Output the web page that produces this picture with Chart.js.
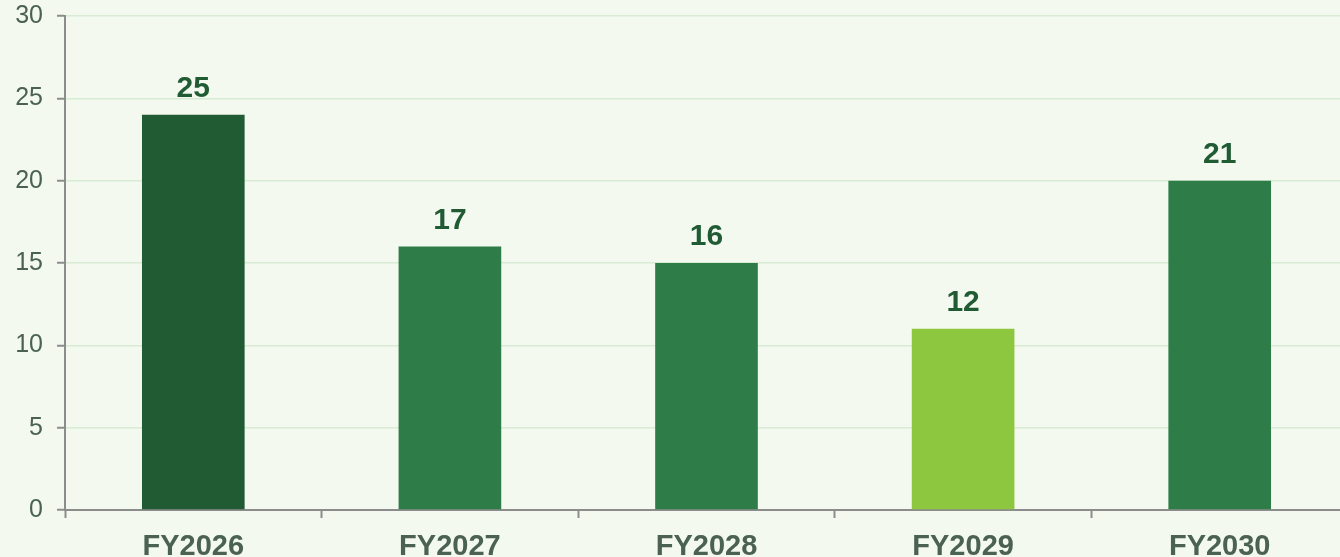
<!DOCTYPE html>
<html>
<head>
<meta charset="utf-8">
<script src="https://cdn.jsdelivr.net/npm/chart.js@4/dist/chart.umd.min.js"></script>
<style>
  html, body { margin: 0; padding: 0; background: #f3f9ef; overflow: hidden; }
  #wrap { width: 1348px; height: 557px; }
</style>
</head>
<body>
<div id="wrap"><canvas id="bars" width="1348" height="557"></canvas></div>
<script>
// chart data
const years = ['FY2026', 'FY2027', 'FY2028', 'FY2029', 'FY2030'];
const barValues = [24, 16, 15, 11, 20];
const valueLabels = ['25', '17', '16', '12', '21'];
const barColors = ['#215b34', '#2e7d48', '#2e7d48', '#8dc63f', '#2e7d48'];
const yTicks = [0, 5, 10, 15, 20, 25, 30];

const axisGray = '#8c8c8c';
const tickText = '#4b6253';

// draws the number above each bar
const topLabels = {
    id: 'topLabels',
    afterDatasetsDraw(chart) {
        const ctx = chart.ctx;
        const meta = chart.getDatasetMeta(0);
        ctx.save();
        ctx.font = 'bold 30px "Liberation Sans", Arial, sans-serif';
        ctx.fillStyle = '#215b34';
        ctx.textAlign = 'center';
        ctx.textBaseline = 'alphabetic';
        meta.data.forEach(function(bar, i) {
            ctx.fillText(valueLabels[i], bar.x, bar.y - 18);
        });
        ctx.restore();
    }
};

const ctx = document.getElementById('bars');
new Chart(ctx, {
    type: 'bar',
    data: {
        labels: years,
        datasets: [{
            data: barValues,
            backgroundColor: barColors,
            borderWidth: 0,
            categoryPercentage: 0.4,
            barPercentage: 1.0
        }]
    },
    options: {
        responsive: false,
        animation: false,
        layout: { padding: { top: 16, right: 0, left: 0, bottom: 0 } },
        plugins: {
            legend: { display: false },
            tooltip: { enabled: false }
        },
        scales: {
            x: {
                grid: {
                    display: true,
                    drawOnChartArea: false,
                    drawTicks: true,
                    tickLength: 8,
                    tickColor: axisGray,
                    tickWidth: 2,
                    offset: true
                },
                border: { color: axisGray, width: 2 },
                ticks: {
                    color: tickText,
                    padding: 12,
                    font: { family: '"Liberation Sans", Arial, sans-serif', size: 29, weight: 'bold' }
                },
                afterFit(scale) {
                    scale.height = 47;
                    scale.paddingLeft = 0;
                    scale.paddingRight = 0;
                }
            },
            y: {
                min: 0,
                max: 30,
                afterBuildTicks(scale) {
                    scale.ticks = yTicks.map(function(v) { return { value: v }; });
                },
                grid: {
                    color: '#d9ebd4',
                    lineWidth: 1.5,
                    tickLength: 8,
                    tickColor: axisGray,
                    tickWidth: 2
                },
                border: { color: axisGray, width: 2 },
                ticks: {
                    color: tickText,
                    padding: 14,
                    font: { family: '"Liberation Sans", Arial, sans-serif', size: 25 }
                },
                afterFit(scale) {
                    scale.width = 65;
                    scale.paddingTop = 0;
                    scale.paddingBottom = 0;
                }
            }
        }
    },
    plugins: [topLabels]
});
</script>
</body>
</html>
